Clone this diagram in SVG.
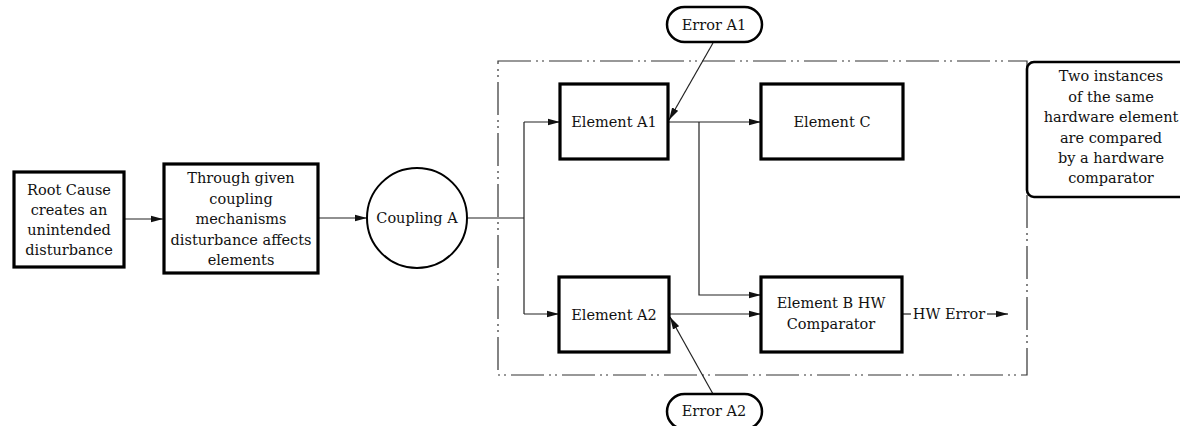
<svg xmlns="http://www.w3.org/2000/svg" width="1180" height="426" viewBox="0 0 1180 426">
<style>
text{font-family:"DejaVu Serif","Liberation Serif",serif;font-size:14.5px;fill:#111;text-anchor:middle;dominant-baseline:central}
.box{fill:#fff;stroke:#000;stroke-width:3.2}
.pill{fill:#fff;stroke:#000;stroke-width:2.5}
.circ{fill:#fff;stroke:#000;stroke-width:2}
.note{fill:#fff;stroke:#000;stroke-width:2.6}
.ln{fill:none;stroke:#222;stroke-width:1.2}
.arr{fill:none;stroke:#222;stroke-width:1.2;marker-end:url(#ah)}
.bound{fill:none;stroke:#333;stroke-width:1.2;stroke-dasharray:33 5 2 4 2 5}
</style>
<defs>
<marker id="ah" markerUnits="userSpaceOnUse" markerWidth="13" markerHeight="8" refX="12.5" refY="4" orient="auto">
<path d="M0,0.5 L12.5,4 L0,7.5 z" fill="#111"/>
</marker>
</defs>
<rect class="bound" x="498" y="61" width="529" height="314"/>
<g id="connectors">
<line class="arr" x1="124" y1="219" x2="163" y2="219"/>
<line class="arr" x1="318" y1="218" x2="367" y2="218"/>
<polyline class="ln" points="467,218 524,218"/>
<line class="ln" x1="524" y1="122" x2="524" y2="314"/>
<line class="arr" x1="524" y1="122" x2="560" y2="122"/>
<line class="arr" x1="524" y1="314" x2="559" y2="314"/>
<line class="arr" x1="668" y1="122" x2="761" y2="122"/>
<polyline class="arr" points="699,122 699,295 761,295"/>
<line class="arr" x1="669" y1="314" x2="761" y2="314"/>
<line class="ln" x1="902" y1="314" x2="911" y2="314"/>
<line class="arr" x1="987" y1="314" x2="1008" y2="314"/>
<line class="arr" x1="713" y1="43" x2="669" y2="120"/>
<line class="arr" x1="713" y1="394" x2="670" y2="317"/>
</g>
<g id="root-cause">
<rect class="box" x="14" y="172" width="110" height="95"/>
<text x="69" y="190">Root Cause</text>
<text x="69" y="210">creates an</text>
<text x="69" y="230">unintended</text>
<text x="69" y="250">disturbance</text>
</g>
<g id="through">
<rect class="box" x="164" y="164" width="154" height="109"/>
<text x="241" y="178">Through given</text>
<text x="241" y="199">coupling</text>
<text x="241" y="219">mechanisms</text>
<text x="241" y="240">disturbance affects</text>
<text x="241" y="260">elements</text>
</g>
<g id="coupling-a">
<circle class="circ" cx="417" cy="218" r="50"/>
<text x="417" y="218">Coupling A</text>
</g>
<g id="element-a1">
<rect class="box" x="560" y="84" width="108" height="75"/>
<text x="614" y="122">Element A1</text>
</g>
<g id="element-c">
<rect class="box" x="761" y="84" width="142" height="75"/>
<text x="832" y="122">Element C</text>
</g>
<g id="element-a2">
<rect class="box" x="559" y="277" width="110" height="75"/>
<text x="614" y="315">Element A2</text>
</g>
<g id="element-b">
<rect class="box" x="761" y="277" width="141" height="75"/>
<text x="831" y="303">Element B HW</text>
<text x="831" y="324">Comparator</text>
</g>
<g id="hw-error">
<text x="949" y="314">HW Error</text>
</g>
<g id="error-a1">
<rect class="pill" x="667" y="7" width="95" height="35" rx="17.5"/>
<text x="714" y="25">Error A1</text>
</g>
<g id="error-a2">
<rect class="pill" x="667" y="394" width="95" height="35" rx="17.5"/>
<text x="714" y="411">Error A2</text>
</g>
<g id="note">
<rect class="note" x="1027" y="62" width="170" height="135" rx="7"/>
<text x="1111" y="76">Two instances</text>
<text x="1111" y="97">of the same</text>
<text x="1111" y="117">hardware element</text>
<text x="1111" y="138">are compared</text>
<text x="1111" y="158">by a hardware</text>
<text x="1111" y="178">comparator</text>
</g>
</svg>
